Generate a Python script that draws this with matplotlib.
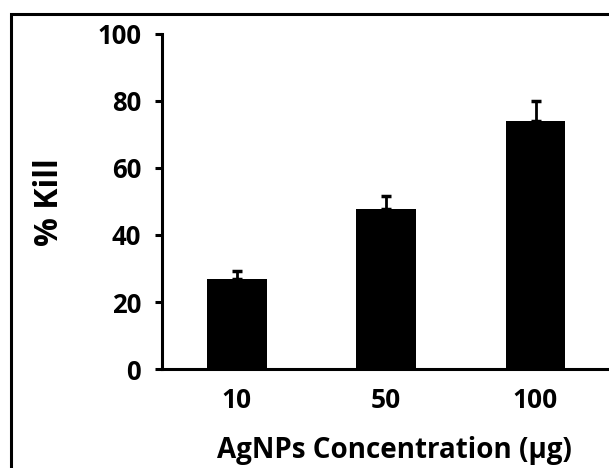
import matplotlib
matplotlib.use("Agg")
import matplotlib.pyplot as plt
from matplotlib.patches import Rectangle

categories = ["10", "50", "100"]
kill_pct = [26.8, 47.7, 74.1]
err_up = [2.6, 3.8, 5.8]
yticks = [0, 20, 40, 60, 80, 100]

plt.rcParams['font.family'] = ['Open Sans', 'DejaVu Sans']

fig = plt.figure(figsize=(6.09, 4.68), dpi=100)
ax = fig.add_axes([0.266, 0.2115, 0.736, 0.716])

x = list(range(len(categories)))
ax.bar(x, kill_pct, width=0.40, color="black", zorder=2)
ax.errorbar(x, kill_pct, yerr=[[0]*len(err_up), err_up], fmt="none",
            ecolor="black", elinewidth=2, capsize=3.5, capthick=2.5, zorder=1)

ax.set_xlim(-0.5, 2.5)
ax.set_ylim(0, 100)
ax.set_yticks(yticks)
ax.set_yticklabels([str(v) for v in yticks], fontsize=18.5, fontweight="bold")
ax.set_xticks(x)
ax.set_xticklabels(categories, fontsize=19, fontweight="bold")
ax.tick_params(axis="x", length=0, pad=13)
ax.tick_params(axis="y", direction="out", length=5, width=2.2, pad=10)
for s in ["top", "right"]:
    ax.spines[s].set_visible(False)
for s in ["left", "bottom"]:
    ax.spines[s].set_linewidth(2.2)

ax.set_ylabel("% Kill", fontsize=23, fontweight="bold")
ax.set_xlabel("AgNPs Concentration (µg)", fontsize=20, fontweight="bold")
ax.yaxis.set_label_coords(-0.215, 0.4985)
ax.xaxis.set_label_coords(0.518, -0.20)

fig.patches.append(Rectangle((11/609, -0.1), 1.2, (468-14)/468 + 0.1,
                             transform=fig.transFigure, fill=False,
                             edgecolor="black", linewidth=2.2))

fig.savefig("out.png", dpi=100)
